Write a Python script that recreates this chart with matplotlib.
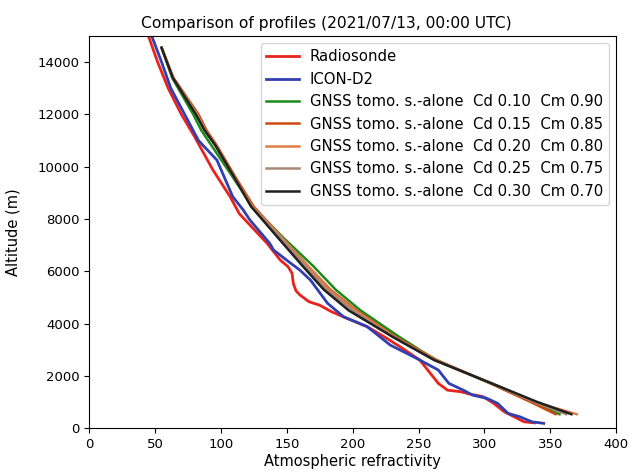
import numpy as np
import matplotlib.pyplot as plt

# Radiosonde profile (refractivity, altitude in m)
radio_n = [45, 52, 60, 70, 80, 94, 107, 114, 135, 145, 151, 154, 155, 157, 160, 167, 175, 184, 196,
           211, 226, 236, 251, 259, 265, 272, 282, 289, 299, 307, 315, 325, 330, 338]
radio_h = [15000, 14000, 13000, 12000, 11150, 9870, 8850, 8200, 7070, 6430, 6170, 5920, 5530, 5250,
           5090, 4830, 4700, 4450, 4190, 3880, 3430, 3110, 2600, 2090, 1710, 1450, 1390, 1300, 1200,
           945, 625, 370, 240, 200]

# ICON-D2 profile
icon_n = [47.5, 55, 62, 72.5, 83, 97, 109, 117, 122, 137, 140, 150, 160, 168, 181, 193, 211, 228.5,
          241, 251, 265, 273, 284, 291, 302, 310, 318, 327, 336, 345]
icon_h = [15000, 14000, 13000, 12000, 11000, 10250, 8850, 8340, 7960, 7070, 6810, 6420, 6040, 5660,
          4770, 4260, 3880, 3175, 2860, 2600, 2220, 1710, 1450, 1260, 1135, 945, 560, 430, 240, 180]

# GNSS tomography stand-alone, common altitude grid
tomo_h = [14550, 13400, 12000, 11400, 10800, 9600, 8470, 7300, 6200, 5300, 4500, 3500, 2600, 1700,
          1000, 530]
tomo_010 = [55, 63, 79, 85, 93, 109, 124, 147, 170, 187, 206, 235, 263, 305, 336, 357]
tomo_015 = [55, 64, 83, 89, 97, 111, 125, 146, 166, 183, 203, 232, 264, 305, 335, 354]
tomo_020 = [55, 63.5, 82, 88, 96, 110, 124, 146, 166, 182, 202, 231, 263, 306, 338, 370]
tomo_025 = [55, 63.5, 81.5, 87.5, 96, 110, 123, 145, 164, 180, 200, 230, 262, 306, 338, 362]
tomo_030 = [55, 63.5, 81, 87.5, 96, 110, 123, 143, 162, 178, 197, 230, 262, 306, 340, 366]

labels = ['Radiosonde', 'ICON-D2',
          'GNSS tomo. s.-alone  Cd 0.10  Cm 0.90',
          'GNSS tomo. s.-alone  Cd 0.15  Cm 0.85',
          'GNSS tomo. s.-alone  Cd 0.20  Cm 0.80',
          'GNSS tomo. s.-alone  Cd 0.25  Cm 0.75',
          'GNSS tomo. s.-alone  Cd 0.30  Cm 0.70']
colors = ['#e8231e', '#3040b0', '#1a8a1a', '#d04a10', '#e07d45', '#a88878', '#202020']

fig = plt.figure(figsize=(6.32, 4.73), dpi=100)
ax = fig.add_axes([0.141, 0.095, 0.834, 0.829])

ax.plot(radio_n, radio_h, color=colors[0], lw=2, label=labels[0])
ax.plot(icon_n, icon_h, color=colors[1], lw=2, label=labels[1])
for n, c, lab in zip([tomo_010, tomo_015, tomo_020, tomo_025, tomo_030], colors[2:], labels[2:]):
    ax.plot(n, tomo_h, color=c, lw=1.8, label=lab)

ax.set_xlim(0, 400)
ax.set_ylim(0, 15000)
ax.set_xticks(np.arange(0, 401, 50))
ax.set_yticks(np.arange(0, 14001, 2000))
ax.tick_params(labelsize=9.5)
ax.set_xlabel('Atmospheric refractivity', fontsize=10.5, labelpad=2)
ax.set_ylabel('Altitude (m)', fontsize=10.5, labelpad=12)
ax.set_title('Comparison of profiles (2021/07/13, 00:00 UTC)', fontsize=11.2, x=0.45)
ax.legend(loc='upper right', fontsize=10.7, handlelength=2.2, handletextpad=0.7,
          labelspacing=0.5)

plt.savefig('out.png', dpi=100)
